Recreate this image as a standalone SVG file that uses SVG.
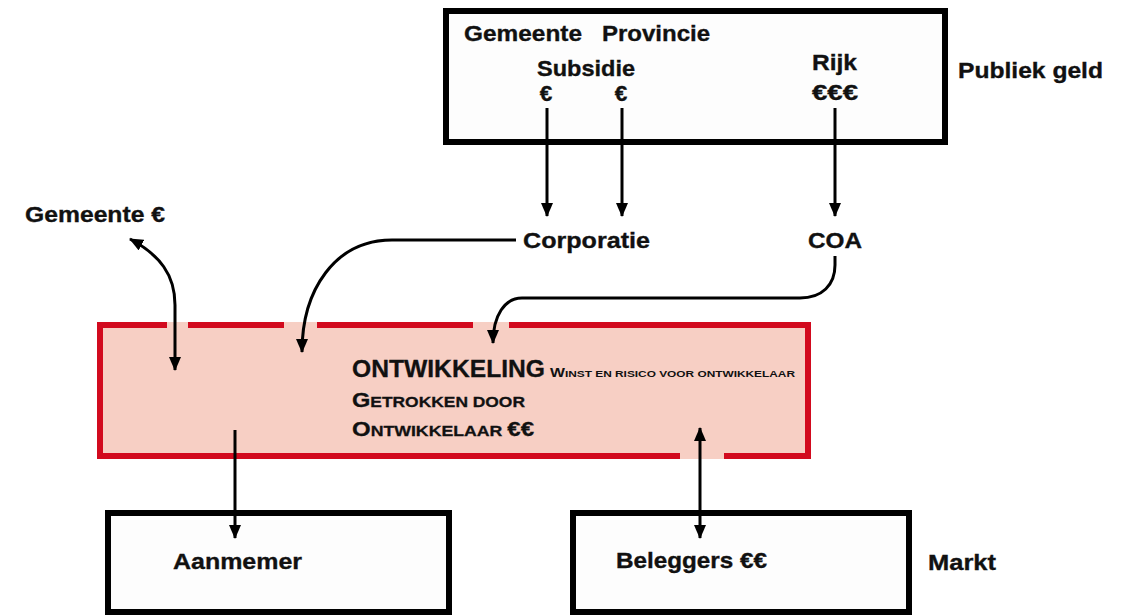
<svg xmlns="http://www.w3.org/2000/svg" width="1132" height="616" viewBox="0 0 1132 616">
<defs>
<style>
text{font-family:"Liberation Sans",Arial,Helvetica,sans-serif;font-weight:bold;fill:#111;}
.t22{font-size:22.5px;stroke:#111;stroke-width:0.35;}
.box{fill:#fdfdfd;stroke:#000;stroke-width:6;}
.red{stroke:#d20a1e;stroke-width:6;fill:none;}
.con{fill:none;stroke:#000;stroke-width:3;}
.sc{stroke:#111;stroke-width:0.3;}
</style>
<marker id="ah" viewBox="0 0 14 12" refX="13" refY="6" markerWidth="14" markerHeight="12" markerUnits="userSpaceOnUse" orient="auto-start-reverse">
<path d="M0,0 L14,6 L0,12 z" fill="#000"/>
</marker>
</defs>
<rect width="1132" height="616" fill="#fff"/>

<g id="publiek">
<rect class="box" x="446" y="11" width="499" height="131"/>
<text class="t22" x="464" y="41" textLength="118" lengthAdjust="spacingAndGlyphs">Gemeente</text>
<text class="t22" x="602" y="41" textLength="108" lengthAdjust="spacingAndGlyphs">Provincie</text>
<text class="t22" x="537" y="76" textLength="98" lengthAdjust="spacingAndGlyphs">Subsidie</text>
<text class="t22" x="546" y="101" text-anchor="middle">€</text>
<text class="t22" x="621" y="101" text-anchor="middle">€</text>
<text class="t22" x="812" y="70" textLength="45" lengthAdjust="spacingAndGlyphs">Rijk</text>
<text class="t22" x="812" y="100" textLength="46" lengthAdjust="spacingAndGlyphs">€€€</text>
</g>

<g id="publiek-geld-label">
<text class="t22" x="958" y="78" textLength="145" lengthAdjust="spacingAndGlyphs">Publiek geld</text>
</g>

<g id="gemeente">
<text class="t22" x="25" y="222" textLength="140" lengthAdjust="spacingAndGlyphs">Gemeente €</text>
</g>

<g id="corporatie">
<text class="t22" x="523" y="248" textLength="127" lengthAdjust="spacingAndGlyphs">Corporatie</text>
</g>

<g id="coa">
<text class="t22" x="808" y="248" textLength="54" lengthAdjust="spacingAndGlyphs">COA</text>
</g>

<g id="ontwikkeling">
<rect x="97" y="322" width="714" height="137" fill="#f7cfc4"/>
<path class="red" d="M100,459 V325 H167 M188,325 H284 M317,325 H473 M509,325 H808 V456 H724 M680,456 H100"/>
<text class="sc" x="352" y="377" font-size="24" textLength="193" lengthAdjust="spacingAndGlyphs">ONTWIKKELING</text>
<text x="550" y="377" textLength="245" lengthAdjust="spacingAndGlyphs"><tspan font-size="12">W</tspan><tspan font-size="9">INST EN RISICO VOOR ONTWIKKELAAR</tspan></text>
<text class="sc" x="352" y="407" textLength="173" lengthAdjust="spacingAndGlyphs"><tspan font-size="21">G</tspan><tspan font-size="15.5">ETROKKEN DOOR</tspan></text>
<text class="sc" x="352" y="436" textLength="182" lengthAdjust="spacingAndGlyphs"><tspan font-size="21">O</tspan><tspan font-size="15.5">NTWIKKELAAR </tspan><tspan font-size="21">€€</tspan></text>
</g>

<g id="aanmemer">
<rect class="box" x="108" y="513" width="341" height="99"/>
<text class="t22" x="173" y="569" textLength="129" lengthAdjust="spacingAndGlyphs">Aanmemer</text>
</g>

<g id="beleggers">
<rect class="box" x="573" y="513" width="336" height="99"/>
<text class="t22" x="616" y="568" textLength="151" lengthAdjust="spacingAndGlyphs">Beleggers €€</text>
</g>

<g id="markt-label">
<text class="t22" x="928" y="570" textLength="68" lengthAdjust="spacingAndGlyphs">Markt</text>
</g>

<g id="connectors">
<path class="con" d="M547,108 V216" marker-end="url(#ah)"/>
<path class="con" d="M622,108 V216" marker-end="url(#ah)"/>
<path class="con" d="M835,108 V216" marker-end="url(#ah)"/>
<path class="con" d="M516,240 H392 C335,240 302,290 302,352" marker-end="url(#ah)"/>
<path class="con" d="M835,256 V265 C835,285 822,298 800,298 H522 C505,298 493,315 493,343" marker-end="url(#ah)"/>
<path class="con" d="M130,239 C160,255 175,275 175,305 V370" marker-start="url(#ah)" marker-end="url(#ah)"/>
<path class="con" d="M235,430 V538" marker-end="url(#ah)"/>
<path class="con" d="M700,428 V538" marker-start="url(#ah)" marker-end="url(#ah)"/>
</g>
</svg>
